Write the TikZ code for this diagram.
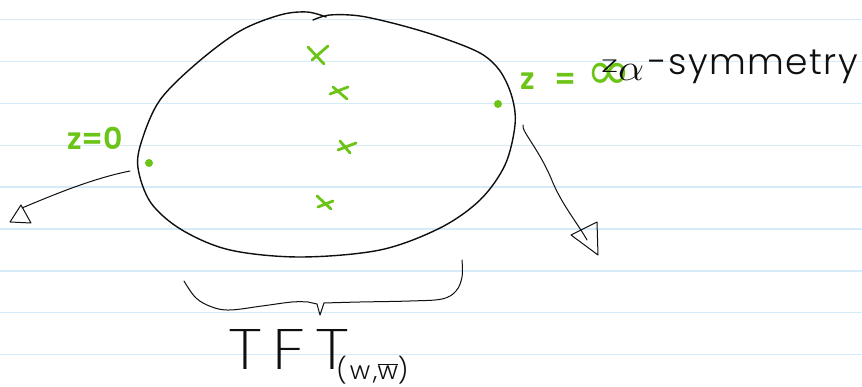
\documentclass[tikz,border=0pt]{standalone}
\usepackage{fontspec}
\usepackage{graphicx}
\setmainfont{Poppins}
\newfontfamily\lighthand{Poppins Light}[LetterSpace=4]
\newfontfamily\tfthand{Poppins ExtraLight}[LetterSpace=15]
\newfontfamily\subhand{Poppins Light}[LetterSpace=12]
\newfontfamily\greenhand{Poppins SemiBold}
\newfontfamily\symfont{DejaVu Sans}
\usetikzlibrary{arrows.meta}
\definecolor{ink}{RGB}{15,15,15}
\definecolor{marker}{RGB}{108,196,23}
\definecolor{ruled}{RGB}{214,235,250}
\tikzset{
  inkline/.style={ink, line width=1.4pt, line cap=round, line join=round},
  thinline/.style={ink, line width=1.0pt, line cap=round, line join=round},
  xmark/.style={marker, line width=2.8pt, line cap=round},
  gdot/.style={circle, fill=marker, minimum size=8pt, inner sep=0pt},
  greenlabel/.style={text=marker, inner sep=0pt, font=\greenhand},
  blacklabel/.style={text=ink, inner sep=0pt, font=\lighthand}
}
\begin{document}
\begin{tikzpicture}[x=1pt,y=-1pt]
\useasboundingbox (0,0) rectangle (862,387);
\fill[white] (0,0) rectangle (862,387);
% ruled paper
\foreach \k in {0,...,8}
  \draw[ruled, line width=1.3pt] (0,{19.5+41.9*\k}) -- (862,{19.5+41.9*\k});
% blob
\draw[inkline] plot[smooth, tension=0.55] coordinates {
 (313,20) (330,15) (360,16) (400,25) (440,37) (480,53) (500,71) (512,97)
 (515,125) (505,165) (480,200) (440,228) (380,250) (300,257) (230,250)
 (182,230) (151,203) (138,168) (142,140) (160,100) (197,63) (240,31)
 (280,15) (307,12) (326,17)};
% dots
\node[gdot] (d0) at (149,163) {};
\node[gdot] (dinf) at (498,104) {};
% crosses
\draw[xmark] (308,47) -- (324,64) (328,46) -- (312,60);
\draw[xmark] (330,94) -- (348,87) (333,87) -- (347,99);
\draw[xmark] (338,150) -- (356,143) (340,141) -- (350,153);
\draw[xmark] (317,196) -- (331,209) (318,207) -- (333,201);
% labels
\node[greenlabel, anchor=base west] (z0) at (67,150) {\fontsize{30}{30}\selectfont z=0};
\node[greenlabel, anchor=base west] (zinf) at (520,90) {\fontsize{30}{30}\selectfont z\hspace{20pt}=\hspace{10pt}{\symfont\fontsize{54}{54}\selectfont ∞}};
\node[blacklabel, anchor=base west] (sym) at (601,75) {{\fontsize{18}{18}\selectfont\raisebox{2pt}{\scalebox{1.8}[1]{Z}}}\raisebox{-6pt}{\fontsize{20}{20}\selectfont\scalebox{2}[1.8]{$\alpha$}}\hspace{4pt}{\fontsize{36}{36}\selectfont -symmetry}};
% left arrow
\coordinate (la) at (130,171);
\coordinate (lb) at (22,208);
\draw[thinline] (la) .. controls (95,178) and (60,192) .. (lb);
\draw[thinline] (10,222) -- (21,205) -- (31,223) -- cycle;
% right arrow
\coordinate (ra) at (523,125);
\coordinate (rb) at (587,240);
\draw[thinline] (ra) .. controls (521,131) and (540,150) .. (553,183) .. controls (563,206) and (578,224) .. (rb);
\draw[thinline] (571,235) -- (597,222) -- (598,255) -- cycle;
% brace
\draw[thinline] plot[smooth, tension=0.6] coordinates {
 (184,281) (196,298) (212,307) (230,310) (262,306) (292,302) (308,302)}
 -- (317,304) -- (320,315) -- (324,303)
 plot[smooth, tension=0.6] coordinates {(324,303) (360,302) (410,301) (442,299) (456,291) (462,277) (462,260)};
% TFT
\node[text=ink, inner sep=0pt, anchor=base west] (tft) at (228,369) {\scalebox{1.2}[1]{\tfthand\fontsize{57}{57}\selectfont TFT}\hspace{-13pt}{\subhand\fontsize{25}{25}\selectfont\raisebox{-10pt}{(w,$\overline{\hbox{w}}$)}}};
\end{tikzpicture}
\end{document}
